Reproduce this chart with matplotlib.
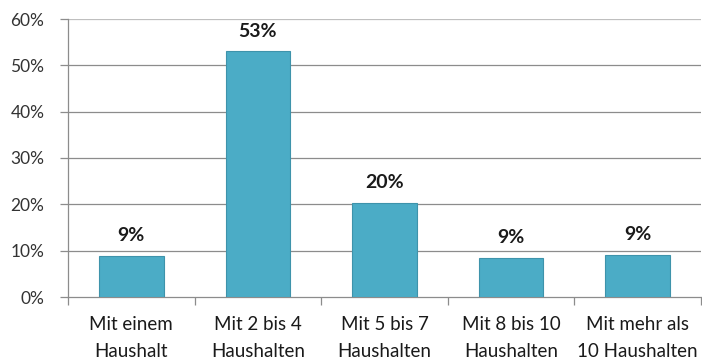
import matplotlib
matplotlib.use("Agg")
import matplotlib.pyplot as plt
import numpy as np

categories = ["Mit einem\nHaushalt", "Mit 2 bis 4\nHaushalten", "Mit 5 bis 7\nHaushalten",
              "Mit 8 bis 10\nHaushalten", "Mit mehr als\n10 Haushalten"]
values = [8.9, 53.0, 20.3, 8.4, 9.1]
labels = ["9%", "53%", "20%", "9%", "9%"]
yticks = [0, 10, 20, 30, 40, 50, 60]
ytick_labels = ["0%", "10%", "20%", "30%", "40%", "50%", "60%"]

plt.rcParams['font.family'] = ['Lato', 'DejaVu Sans']

fig = plt.figure(figsize=(7.02, 3.61), dpi=100)
ax = fig.add_axes([68/702, 1-297/361, (701-68)/702, (297-19)/361])

x = np.arange(len(categories))
ax.bar(x, values, width=0.51, color="#4BACC6", edgecolor="#3E93AB", linewidth=0.8, zorder=3)
for xi, v, lab in zip(x, values, labels):
    ax.text(xi, v + 3.2, lab, ha="center", va="baseline", fontsize=14, fontweight="bold", color="#1a1a1a")

ax.set_xlim(-0.5, len(categories) - 0.5)
ax.set_ylim(0, 60)
ax.set_yticks(yticks)
ax.set_yticklabels(ytick_labels, fontsize=12.5, color="#333333")
for yv in yticks[1:]:
    ax.axhline(yv, color="#BFBFBF" if yv == 60 else "#8C8C8C", linewidth=0.9, zorder=1)

ax.set_xticks(x)
ax.set_xticklabels(categories, fontsize=13.5, color="#1a1a1a", linespacing=1.7)
ax.tick_params(axis="x", length=0, pad=14)
ax.set_xticks(np.arange(len(categories) + 1) - 0.5, minor=True)
ax.tick_params(axis="x", which="minor", length=6, color="#8C8C8C", width=0.9)
ax.tick_params(axis="y", length=6, color="#8C8C8C", width=0.9, pad=11)

for s in ["top", "right"]:
    ax.spines[s].set_visible(False)
for s in ["left", "bottom"]:
    ax.spines[s].set_color("#8C8C8C")
    ax.spines[s].set_linewidth(0.9)

fig.savefig("out.png", dpi=100)
